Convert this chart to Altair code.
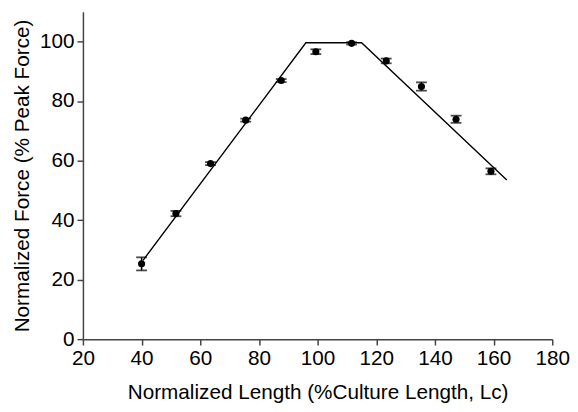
import altair as alt
import pandas as pd

# Measured points (normalized length vs normalized force) with SEM
length = [40, 51.7, 63.5, 75.5, 87.6, 99.4, 111.6, 123.4, 135.4, 147.2, 159.1]
force = [25.3, 42.2, 59.0, 73.6, 86.9, 96.6, 99.4, 93.5, 84.9, 73.9, 56.4]
err = [2.2, 0.9, 0.5, 0.5, 0.5, 0.8, 0.4, 0.8, 1.4, 1.2, 1.0]

# Piecewise-linear model line
fit_x = [40.5, 96.0, 115.0, 164.5]
fit_y = [26.5, 99.6, 99.6, 53.5]

pts = pd.DataFrame({"x": length, "y": force, "lo": [f - e for f, e in zip(force, err)],
                    "hi": [f + e for f, e in zip(force, err)]})
fit = pd.DataFrame({"x": fit_x, "y": fit_y})

FONT = "Liberation Sans"
xs = alt.Scale(domain=[20, 180], nice=False)
ys = alt.Scale(domain=[0, 110], nice=False)

xax = alt.Axis(title="Normalized Length (%Culture Length, Lc)", values=[20, 40, 60, 80, 100, 120, 140, 160, 180],
               grid=False)
yax = alt.Axis(title="Normalized Force (% Peak Force)", values=[0, 20, 40, 60, 80, 100], grid=False)

line = alt.Chart(fit).mark_line(color="black", strokeWidth=1.4).encode(
    x=alt.X("x:Q", scale=xs, axis=xax),
    y=alt.Y("y:Q", scale=ys, axis=yax),
)

rules = alt.Chart(pts).mark_rule(color="black", strokeWidth=1.5).encode(
    x=alt.X("x:Q", scale=xs), y=alt.Y("lo:Q", scale=ys), y2="hi:Q"
)
cap_lo = alt.Chart(pts).mark_tick(color="black", orient="horizontal", size=11, thickness=1.8).encode(
    x=alt.X("x:Q", scale=xs), y=alt.Y("lo:Q", scale=ys)
)
cap_hi = alt.Chart(pts).mark_tick(color="black", orient="horizontal", size=11, thickness=1.8).encode(
    x=alt.X("x:Q", scale=xs), y=alt.Y("hi:Q", scale=ys)
)
dots = alt.Chart(pts).mark_circle(color="black", opacity=1, size=52).encode(
    x=alt.X("x:Q", scale=xs), y=alt.Y("y:Q", scale=ys)
)

chart = alt.layer(line, rules, cap_lo, cap_hi, dots).properties(
    width=476, height=332,
    autosize=alt.AutoSizeParams(type="none"),
    padding={"left": 76, "top": 1, "right": 18, "bottom": 70},
).configure_view(stroke=None).configure_axis(
    labelFont=FONT, titleFont=FONT, labelFontSize=21, titleFontSize=21,
    labelColor="black", titleColor="black", titleFontWeight="normal",
    domainColor="#444", tickColor="#444", domainWidth=1.5, tickWidth=1.5, tickSize=6,
    labelPadding=3, labelFlush=False,
).configure_axisX(titlePadding=13).configure_axisY(titlePadding=7)

chart.save("out.html", embed_options={"renderer": "svg", "actions": False})
